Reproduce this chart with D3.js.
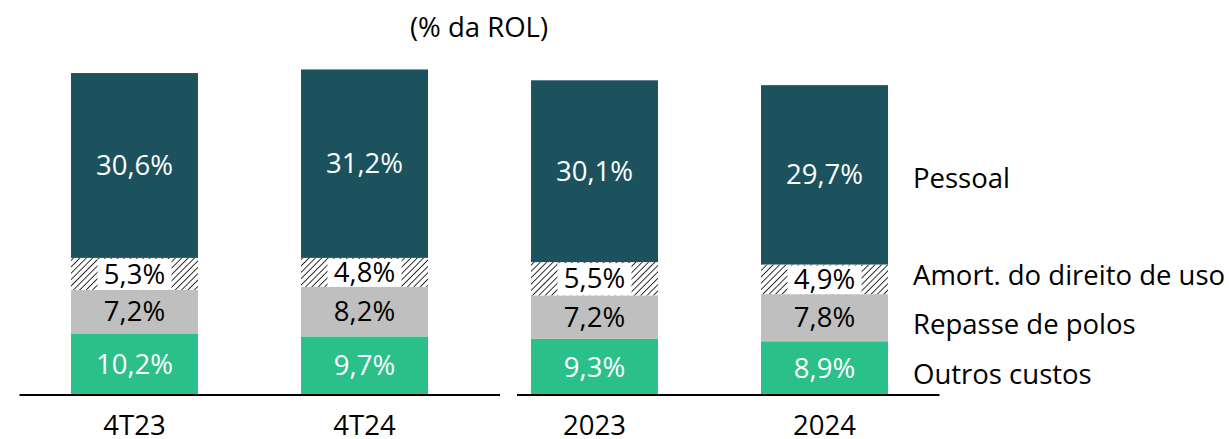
<!DOCTYPE html>
<html>
<head>
<meta charset="utf-8">
<script src="https://cdn.jsdelivr.net/npm/d3@7"></script>
<style>
  body { margin: 0; background: #fff; }
  svg text { font-family: "Open Sans", sans-serif; }
</style>
</head>
<body>
<svg id="chart" width="1229" height="439"></svg>
<script>
(function(){
  // data
  var categories = ['4T23', '4T24', '2023', '2024']
  var groups = [['4T23', '4T24'], ['2023', '2024']]
  var series = ['Outros custos', 'Repasse de polos', 'Amort. do direito de uso', 'Pessoal']
  var outros = [10.2, 9.7, 9.3, 8.9]
  var repasse = [7.2, 8.2, 7.2, 7.8]
  var amort = [5.3, 4.8, 5.5, 4.9]
  var pessoal = [30.6, 31.2, 30.1, 29.7]
  var title = '(% da ROL)'

  var values = [outros, repasse, amort, pessoal]
  var fills = ['#2BBF8A', '#BFBFBF', 'url(#hatch)', '#1B525D']
  var textColors = ['#fff', '#000', '#000', '#fff']
  var fontSize = 27.5

  var svg = d3.select('#chart')

  // hatch pattern
  var pat = svg.append('defs').append('pattern')
    .attr('id', 'hatch')
    .attr('patternUnits', 'userSpaceOnUse')
    .attr('width', 4.5).attr('height', 4.5)
    .attr('patternTransform', 'rotate(45)')
  pat.append('rect').attr('width', 4.5).attr('height', 4.5).attr('fill', '#fff')
  pat.append('line').attr('x1', 0).attr('y1', 0).attr('x2', 0).attr('y2', 4.5)
    .attr('stroke', '#000').attr('stroke-width', 1.6)

  var rows = categories.map(function(c, i) {
    var r = { cat: c }
    series.forEach(function(s, si) { r[s] = values[si][i] })
    return r
  })
  var stacked = d3.stack().keys(series)(rows)
  stacked.forEach(function(layer) {
    layer.forEach(function(p) { p.si = layer.index })
  })

  var x = d3.scaleBand()
    .domain(categories)
    .range([19.5, 939.5])
    .paddingInner(0.448)
    .paddingOuter(0.224)

  var baseY = 395
  var y = d3.scaleLinear().domain([0, 10]).range([baseY, baseY - 60.4])

  var layers = svg.append('g').attr('class', 'bars')
    .selectAll('g').data(stacked).enter().append('g')

  layers.selectAll('rect')
    .data(function(d) { return d })
    .enter().append('rect')
    .attr('x', function(d) { return x(d.data.cat) })
    .attr('y', function(d) { return y(d[1]) })
    .attr('width', x.bandwidth())
    .attr('height', function(d) { return y(d[0]) - y(d[1]) })
    .attr('fill', function(d) { return fills[d.si] })

  // white box behind hatched labels
  svg.append('g').selectAll('rect')
    .data(stacked[2]).enter().append('rect')
    .attr('x', function(d) { return x(d.data.cat) + x.bandwidth() / 2 - 37 })
    .attr('y', function(d) { return y(d[1]) + 1 })
    .attr('width', 74)
    .attr('height', function(d) { return y(d[0]) - y(d[1]) - 1 })
    .attr('fill', '#fff')

  var fmt = function(v) { return v.toFixed(1).replace('.', ',') + '%' }

  var allPoints = d3.merge(stacked)
  svg.append('g').attr('class', 'values')
    .selectAll('text')
    .data(allPoints)
    .enter().append('text')
    .attr('x', function(d) { return x(d.data.cat) + x.bandwidth() / 2 })
    .attr('y', function(d) { return (y(d[0]) + y(d[1])) / 2 })
    .attr('dy', '0.35em')
    .attr('text-anchor', 'middle')
    .attr('font-size', fontSize)
    .attr('fill', function(d) { return textColors[d.si] })
    .text(function(d) { return fmt(d[1] - d[0]) })

  // baselines per group
  var half = (x.step() - x.bandwidth()) / 2
  svg.append('g').selectAll('line')
    .data(groups).enter().append('line')
    .attr('x1', function(g, i) { return i === 0 ? x(g[0]) - half : x(g[0]) - 14 })
    .attr('x2', function(g, i) {
      var right = x(g[g.length - 1]) + x.bandwidth()
      return i === 0 ? right + 72 : right + half
    })
    .attr('y1', baseY).attr('y2', baseY)
    .attr('stroke', '#000').attr('stroke-width', 2)

  // category labels
  svg.append('g').selectAll('text')
    .data(categories).enter().append('text')
    .attr('x', function(d) { return x(d) + x.bandwidth() / 2 })
    .attr('y', 435)
    .attr('text-anchor', 'middle')
    .attr('font-size', fontSize)
    .attr('fill', '#000')
    .text(function(d) { return d })

  // legend labels on the right
  var legendY = [374, 324, 275, 178]
  svg.append('g').selectAll('text')
    .data(series).enter().append('text')
    .attr('x', 913)
    .attr('y', function(d, i) { return legendY[i] })
    .attr('dy', '0.35em')
    .attr('font-size', fontSize)
    .attr('fill', '#000')
    .text(function(d) { return d })

  svg.append('text')
    .attr('x', 479).attr('y', 27)
    .attr('dy', '0.35em')
    .attr('text-anchor', 'middle')
    .attr('font-size', fontSize)
    .attr('fill', '#000')
    .text(title)
})()
</script>
</body>
</html>
